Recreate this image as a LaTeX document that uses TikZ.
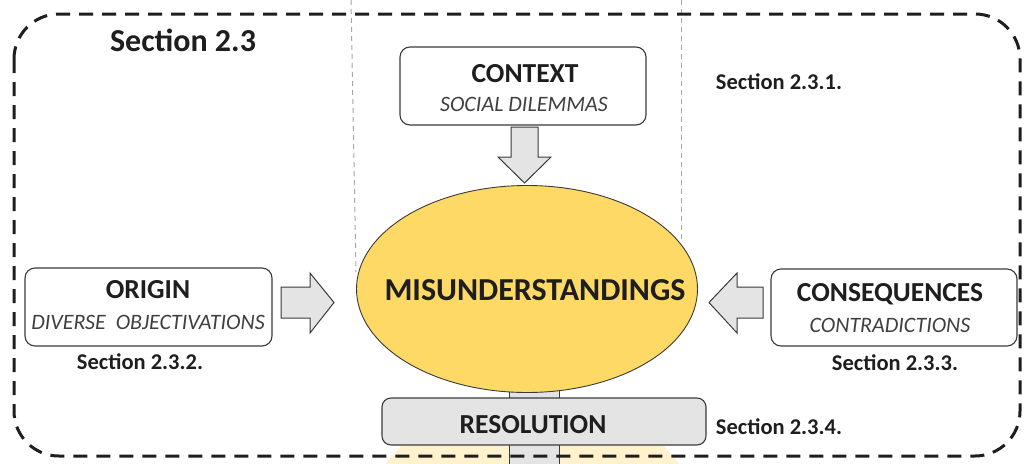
\documentclass[tikz,border=0pt]{standalone}
\usepackage{fontspec}
\setmainfont{Carlito}
\usetikzlibrary{shapes.geometric,calc}
\definecolor{ink}{HTML}{1E1E1E}
\definecolor{edge}{HTML}{3A3A3A}
\definecolor{yel}{HTML}{FED966}
\definecolor{paleyel}{HTML}{FFF2CC}
\definecolor{blockgray}{HTML}{E4E4E4}
\definecolor{guide}{HTML}{A6A6A6}
\newcommand\myttl{\fontsize{27.5}{31}\selectfont\bfseries}
\newcommand\mysub{\fontsize{22}{26}\selectfont\itshape}
\newcommand\mysec{\fontsize{22.5}{26}\selectfont\bfseries}
\begin{document}
\begin{tikzpicture}[x=1pt,y=-1pt,
  box/.style={draw=edge, line width=1.1pt, rounded corners=10pt, fill=white, inner sep=0pt},
  ttl/.style={font=\myttl, text=ink, inner sep=0pt},
  subt/.style={font=\mysub, text=ink!85, inner sep=0pt},
  seclabel/.style={font=\mysec, text=ink, inner sep=0pt},
  blockarrow/.style={draw=edge, line width=1pt, fill=blockgray, line join=miter},
  guideline/.style={draw=guide, line width=1pt, dash pattern=on 5pt off 4pt}]
\useasboundingbox (0,0) rectangle (1024,463);
\clip (0,0) rectangle (1024,463);

% pale shape below (cut by the page edge)
\fill[paleyel] (401,446) -- (664,446) -- (686,472) -- (378,472) -- cycle;

% guide lines
\draw[guideline] (351,0) -- (356,272);
\draw[guideline] (681,0) -- (681,242);

% stubs
\draw[blockarrow] (509,386) rectangle (559,400);
\draw[blockarrow] (509,440) rectangle (559,475);

% central ellipse
\node[ellipse, draw=edge, line width=0.9pt, fill=yel, minimum width=341pt,
      minimum height=207pt, inner sep=0pt] (mis) at (527,289) {};
\node[ttl, font=\fontsize{32}{36}\selectfont\bfseries] (mist) at (535,290) {MISUNDERSTANDINGS};

% boxes
\node[box, minimum width=246pt, minimum height=78pt] (ctx) at (523,86) {};
\node[ttl] (ctxt) at (525,74) {CONTEXT};
\node[subt] (ctxs) at (524,104) {SOCIAL DILEMMAS};

\node[box, minimum width=247pt, minimum height=78pt] (ori) at (148.5,307) {};
\node[ttl] (orit) at (148,290) {ORIGIN};
\node[subt] (oris) at (148,322) {DIVERSE\ \ OBJECTIVATIONS};

\node[box, minimum width=246pt, minimum height=77pt] (con) at (894,307.5) {};
\node[ttl] (cont) at (890,294) {CONSEQUENCES};
\node[subt] (cons) at (890,325) {CONTRADICTIONS};

\node[box, fill=blockgray, rounded corners=9pt, minimum width=324pt, minimum height=47pt] (res) at (544,421.5) {};
\node[ttl] (rest) at (533,425) {RESOLUTION};

% block arrows
\draw[blockarrow] (511,127) -- (538,127) -- (538,157) -- (551,157) -- (524.5,183)
  -- (498,157) -- (511,157) -- cycle;
\draw[blockarrow] (281,287) -- (310,287) -- (310,273) -- (334,302.5) -- (310,333)
  -- (310,318) -- (281,318) -- cycle;
\draw[blockarrow] (763,287) -- (737,287) -- (737,273) -- (709,302.5) -- (737,333)
  -- (737,318) -- (763,318) -- cycle;

% section labels
\node[seclabel, font=\fontsize{32}{36}\selectfont\bfseries] (s23) at (183,40) {Section 2.3};
\node[seclabel] (s231) at (779,82) {Section 2.3.1.};
\node[seclabel] (s232) at (140,362) {Section 2.3.2.};
\node[seclabel] (s233) at (895,363) {Section 2.3.3.};
\node[seclabel] (s234) at (779,427) {Section 2.3.4.};

% outer dashed frame
\draw[ink, line width=3pt, dash pattern=on 14pt off 9pt, rounded corners=45pt]
  (14,14) rectangle (1020,456);
\end{tikzpicture}
\end{document}
